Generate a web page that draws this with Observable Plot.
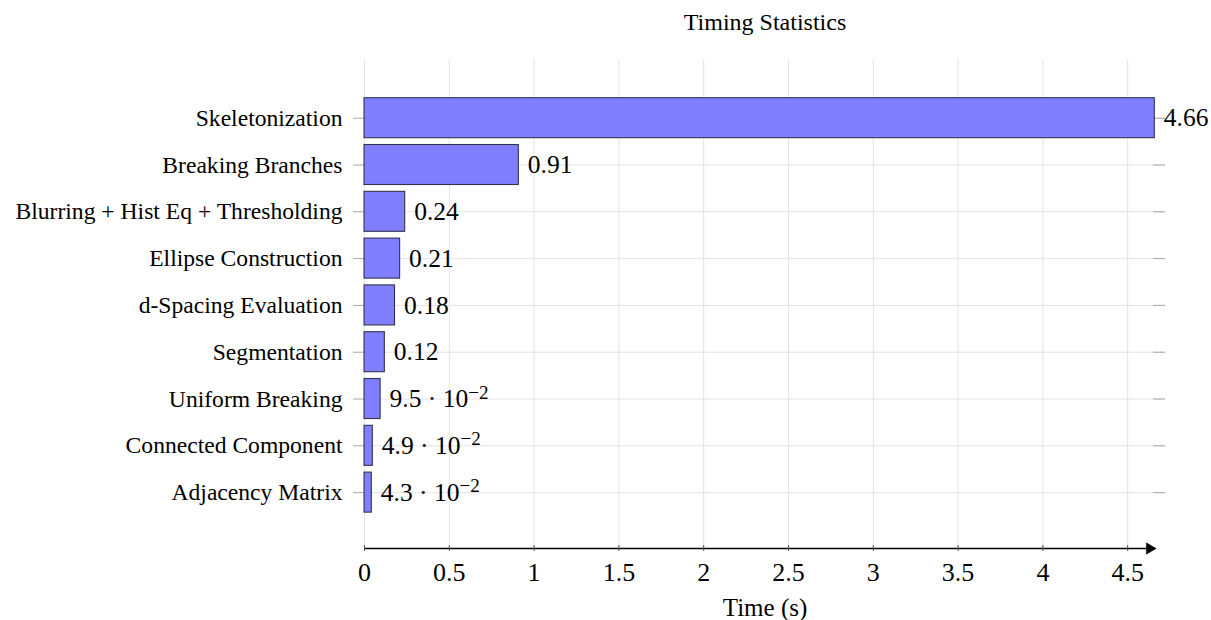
<!DOCTYPE html>
<html>
<head>
<meta charset="utf-8">
<script src="https://cdn.jsdelivr.net/npm/d3@7"></script>
<script src="https://cdn.jsdelivr.net/npm/@observablehq/plot@0.6"></script>
<style>
  html, body { margin: 0; padding: 0; background: #fff; }
  #chart svg { display: block; }
</style>
</head>
<body>
<div id="chart"></div>
<script>
// ---- data ----
const categories = [
  "Skeletonization",
  "Breaking Branches",
  "Blurring + Hist Eq + Thresholding",
  "Ellipse Construction",
  "d-Spacing Evaluation",
  "Segmentation",
  "Uniform Breaking",
  "Connected Component",
  "Adjacency Matrix"
];
const times = [4.66, 0.91, 0.24, 0.21, 0.18, 0.12, 0.095, 0.049, 0.043];
const valueLabels = ["4.66", "0.91", "0.24", "0.21", "0.18", "0.12",
  "9.5 \u00b7 10^\u22122", "4.9 \u00b7 10^\u22122", "4.3 \u00b7 10^\u22122"];
const xTicks = [0, 0.5, 1, 1.5, 2, 2.5, 3, 3.5, 4, 4.5];
const xTickLabels = ["0", "0.5", "1", "1.5", "2", "2.5", "3", "3.5", "4", "4.5"];
const titleText = "Timing Statistics";
const xLabelText = "Time (s)";

// ---- table built from arrays ----
const rows = categories.map((c, i) => ({idx: i, name: c, t: times[i], label: valueLabels[i]}));
const idxs = categories.map((c, i) => i);

const xDomain = [0, 4.723];
const yDomain = [-1.233, 9.194];
const xArrowEnd = 4.653;
const serif = "'Liberation Serif', 'Times New Roman', serif";

const plot = Plot.plot({
  width: 1211,
  height: 620,
  marginLeft: 364,
  marginRight: 46,
  marginTop: 60,
  marginBottom: 72,
  style: {fontFamily: serif, fontSize: "24px", background: "#fff", overflow: "visible"},
  x: {domain: xDomain},
  y: {domain: yDomain, reverse: true},
  marks: [
    Plot.gridX(xTicks, {stroke: "#e3e3e3", strokeOpacity: 1, strokeWidth: 1}),
    Plot.gridY(idxs, {stroke: "#e3e3e3", strokeOpacity: 1, strokeWidth: 1}),
    Plot.ruleY(idxs, {y: d => d, x1: xArrowEnd, x2: xDomain[1], stroke: "#a8a8a8", strokeWidth: 1}),
    Plot.axisY({
      anchor: "left", ticks: idxs, tickFormat: i => categories[i],
      tickSize: 11, tickPadding: 11, stroke: "#a8a8a8", fill: "#000",
      fontSize: 23.6, fontFamily: serif, label: null
    }),
    Plot.rectX(rows, {
      x1: 0, x2: "t", y1: "idx", y2: "idx",
      insetTop: -20, insetBottom: -20,
      fill: "#7f7fff", stroke: "#33334d", strokeWidth: 1.1
    }),
    Plot.text(rows, {
      x: "t", y: "idx", text: "label", textAnchor: "start", dx: 9,
      fontSize: 25.5, fontFamily: serif, fill: "#000",
      ariaDescription: "values"
    }),
    Plot.ruleY([yDomain[1]], {y: d => d, x1: 0, x2: xArrowEnd, insetRight: 4, stroke: "#000", strokeWidth: 1.4}),
    Plot.dot([yDomain[1]], {x: xArrowEnd, y: d => d, symbol: "triangle", rotate: 90, r: 4.2, dx: -4,
      fill: "#000", stroke: "#000", strokeWidth: 0.5}),
    Plot.ruleX(xTicks, {x: d => d, y1: yDomain[1], y2: yDomain[1], insetTop: -3, insetBottom: -3, stroke: "#555", strokeWidth: 1}),
    Plot.axisX({
      ticks: xTicks, tickFormat: d => xTickLabels[xTicks.indexOf(d)],
      tickSize: 0, tickPadding: 14, fontSize: 26, fontFamily: serif, label: null
    }),
    Plot.text([titleText], {frameAnchor: "top", lineAnchor: "middle", dy: -38, fontSize: 24, fontFamily: serif, fill: "#000"}),
    Plot.text([xLabelText], {frameAnchor: "bottom", lineAnchor: "middle", dy: 59, fontSize: 25, fontFamily: serif, fill: "#000"})
  ]
});

document.getElementById("chart").appendChild(plot);

// superscript exponents for value labels like "9.5 · 10^−2"
d3.select(plot).selectAll('g[aria-description="values"] text').each(function() {
  const s = this.textContent;
  const k = s.indexOf("^");
  if (k < 0) return;
  const base = s.slice(0, k), exp = s.slice(k + 1);
  const t = d3.select(this);
  t.text(null);
  t.append("tspan").text(base);
  t.append("tspan").attr("dy", "-0.45em").attr("font-size", "0.75em").text(exp);
});
</script>
</body>
</html>
